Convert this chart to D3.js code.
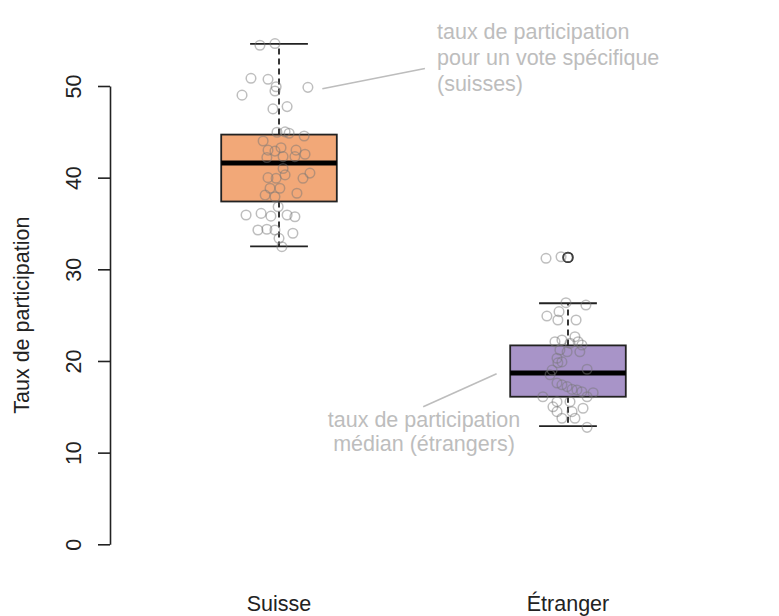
<!DOCTYPE html>
<html><head><meta charset="utf-8">
<script src="https://cdn.jsdelivr.net/npm/d3@7"></script>
<style>body{margin:0;background:#fff}svg{display:block}text{font-family:"Liberation Sans",Arial,sans-serif}</style>
</head><body><svg id="c" width="779" height="616"></svg>
<script>
// ---- data ----
const categories = ["Suisse", "Étranger"];
const boxFill = ["#F2A878", "#A894C8"];
const whiskerLow = [32.5, 12.9];
const q1 = [37.4, 16.1];
const median = [41.6, 18.7];
const q3 = [44.7, 21.7];
const whiskerHigh = [54.6, 26.3];
const outliers = [[], [31.3]];
const yTicks = [0, 10, 20, 30, 40, 50];
const yTitle = "Taux de participation";
// jittered observations: value and jitter (in category units)
const suisseValues = [54.45,54.63,50.84,50.73,49.92,49.45,49.0,49.85,47.5,47.75,44.95,45.0,44.85,44.55,44.0,43.27,43.0,42.9,43.0,42.55,42.2,42.3,42.3,41.0,40.5,40.3,40.0,39.93,39.93,38.84,38.84,38.1,38.3,37.92,36.83,35.93,36.1,35.8,35.93,35.74,34.29,34.37,34.29,33.93,33.38,32.47];
const suisseJitter = [-0.066,-0.014,-0.097,-0.038,-0.010,-0.014,-0.128,0.100,-0.021,0.028,-0.007,0.021,0.035,0.087,-0.055,0.007,-0.038,-0.014,0.059,0.090,-0.042,0.055,0.014,0.014,0.107,0.021,-0.038,-0.010,0.083,0.003,-0.031,-0.048,0.062,-0.014,-0.003,-0.114,-0.062,-0.028,0.028,0.055,-0.073,-0.042,-0.014,0.048,0.000,0.010];
const etrangerValues = [31.2,31.37,31.31,26.36,26.1,25.38,24.9,24.47,24.47,22.1,22.29,22.65,22.1,21.93,21.74,21.2,21.0,21.0,20.3,19.9,19.8,19.0,19.1,18.5,17.6,17.4,17.2,16.9,16.84,16.65,16.54,16.1,16.1,15.56,15.56,15.0,14.84,14.47,14.47,13.75,13.75,12.76];
const etrangerJitter = [-0.076,-0.024,0.000,-0.007,0.062,-0.031,-0.073,-0.035,0.028,-0.045,-0.021,0.024,0.035,0.007,0.048,-0.028,0.041,-0.003,-0.038,-0.021,-0.035,-0.055,0.066,-0.062,-0.038,-0.021,-0.003,0.014,0.031,0.048,0.087,-0.087,0.066,-0.038,0.007,-0.052,0.052,-0.038,0.014,-0.021,0.024,0.066];
const annotations = [
  {lines:["taux de participation","pour un vote spécifique","(suisses)"]},
  {lines:["taux de participation","médian (étrangers)"]}
];

// ---- scales ----
const svg = d3.select("#c");
const x = d3.scaleLinear().domain([0.42, 2.58]).range([111.4, 735.6]);
const y = d3.scaleLinear().domain([0, 50]).range([544.3, 86]);
const boxHalf = 0.2, capHalf = 0.1;

// ---- y axis ----
const yAxis = svg.append("g").attr("transform", "translate(110,0)")
  .call(d3.axisLeft(y).tickValues(yTicks).tickSize(12).tickSizeOuter(0).tickPadding(0));
yAxis.select(".domain").attr("stroke", "#222").attr("stroke-width", 1.6);
yAxis.selectAll(".tick line").attr("stroke", "#222").attr("stroke-width", 1.6);
yAxis.selectAll(".tick text").remove();
yAxis.selectAll(".tick").append("text")
  .attr("transform", "translate(-29,0) rotate(-90)")
  .attr("text-anchor", "middle").attr("fill", "#222")
  .style("font-size", "21.5px").text(d => d);
svg.append("text").attr("transform", `translate(29,${(y(0)+y(50))/2}) rotate(-90)`)
  .attr("text-anchor", "middle").attr("fill", "#222").style("font-size", "21.5px").text(yTitle);

// ---- boxplots ----
categories.forEach((c, i) => {
  const cx = i + 1;
  const g = svg.append("g");
  const dash = "6,4";
  g.append("line").attr("x1", x(cx)).attr("x2", x(cx)).attr("y1", y(q3[i])).attr("y2", y(whiskerHigh[i]))
    .attr("stroke", "#222").attr("stroke-width", 1.8).attr("stroke-dasharray", dash);
  g.append("line").attr("x1", x(cx)).attr("x2", x(cx)).attr("y1", y(q1[i])).attr("y2", y(whiskerLow[i]))
    .attr("stroke", "#222").attr("stroke-width", 1.8).attr("stroke-dasharray", dash);
  [whiskerHigh[i], whiskerLow[i]].forEach(v => {
    g.append("line").attr("x1", x(cx - capHalf)).attr("x2", x(cx + capHalf)).attr("y1", y(v)).attr("y2", y(v))
      .attr("stroke", "#222").attr("stroke-width", 1.8);
  });
  g.append("rect").attr("x", x(cx - boxHalf)).attr("width", x(cx + boxHalf) - x(cx - boxHalf))
    .attr("y", y(q3[i])).attr("height", y(q1[i]) - y(q3[i]))
    .attr("fill", boxFill[i]).attr("stroke", "#222").attr("stroke-width", 1.8);
  g.append("line").attr("x1", x(cx - boxHalf)).attr("x2", x(cx + boxHalf)).attr("y1", y(median[i])).attr("y2", y(median[i]))
    .attr("stroke", "#000").attr("stroke-width", 5);
  outliers[i].forEach(v => {
    g.append("circle").attr("cx", x(cx)).attr("cy", y(v)).attr("r", 4.8)
      .attr("fill", "none").attr("stroke", "#111").attr("stroke-width", 1.8);
  });
  svg.append("text").attr("x", x(cx)).attr("y", 611).attr("text-anchor", "middle")
    .attr("fill", "#222").style("font-size", "21.5px").text(c);
});

// ---- jittered points ----
const pts = suisseValues.map((v, k) => ({c: 1, v, j: suisseJitter[k]}))
  .concat(etrangerValues.map((v, k) => ({c: 2, v, j: etrangerJitter[k]})));
svg.append("g").selectAll("circle").data(pts).join("circle")
  .attr("cx", d => x(d.c + d.j)).attr("cy", d => y(d.v)).attr("r", 4.8)
  .attr("fill", "none").attr("stroke", "rgba(120,120,120,0.48)").attr("stroke-width", 1.5);

// ---- annotations ----
const annColor = "#bdbdbd";
svg.append("line").attr("x1", x(1.15)).attr("y1", y(49.7)).attr("x2", x(1.505)).attr("y2", y(51.9))
  .attr("stroke", annColor).attr("stroke-width", 1.6);
const a1 = svg.append("text").attr("fill", annColor).style("font-size", "21.5px");
annotations[0].lines.forEach((t, k) => a1.append("tspan").attr("x", 437).attr("y", 39 + k * 26).text(t));
svg.append("line").attr("x1", x(1.499)).attr("y1", y(15.0)).attr("x2", x(1.753)).attr("y2", y(18.6))
  .attr("stroke", annColor).attr("stroke-width", 1.6);
const a2 = svg.append("text").attr("fill", annColor).attr("text-anchor", "middle").style("font-size", "21.5px");
annotations[1].lines.forEach((t, k) => a2.append("tspan").attr("x", 424).attr("y", 427 + k * 24).text(t));
</script></body></html>
